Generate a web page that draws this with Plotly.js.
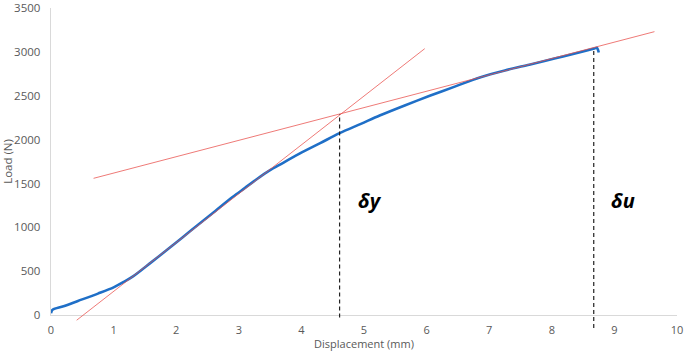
<!DOCTYPE html>
<html>
<head>
<meta charset="utf-8">
<script src="https://cdn.plot.ly/plotly-3.0.1.min.js"></script>
<style>html,body{margin:0;padding:0;background:#fff;}#chart{width:685px;height:351px;}</style>
</head>
<body>
<div id="chart"></div>
<script>
// Load-displacement curve (mm, N)
const curveX = [0, 0.01, 0.03, 0.2, 0.43, 0.75, 1.0, 1.17, 1.31, 1.6, 1.84, 2.1, 2.37, 2.63, 2.9, 3.1, 3.25, 3.45, 3.65, 3.97, 4.3, 4.61, 4.95, 5.25, 5.65, 6.05, 6.45, 6.85, 7.25, 7.64, 7.9, 8.18, 8.45, 8.68, 8.72, 8.74, 8.75];
const curveY = [20, 45, 62, 100, 160, 244, 315, 380, 440, 600, 735, 885, 1040, 1190, 1345, 1450, 1530, 1630, 1712, 1840, 1960, 2075, 2180, 2275, 2390, 2500, 2605, 2710, 2790, 2855, 2900, 2950, 2998, 3040, 3048, 3020, 2995];
// Tangent lines
const steepX = [0.41, 5.97];
const steepY = [-60, 3038];
const shallowX = [0.68, 9.64];
const shallowY = [1559, 3232];
// Yield and ultimate displacement markers
const dyX = [4.61, 4.61];
const dyY = [-30, 2293];
const duX = [8.67, 8.67];
const duY = [-150, 3045];
const labels = ['δy', 'δu'];
const labelX = [5.09, 9.13];
const labelY = [1308, 1308];

const yMin = -160, yMax = 3502;
const mainDomainBottom = (0 - yMin) / (yMax - yMin);

const font = 'Open Sans, Liberation Sans, sans-serif';
const traces = [
  {x: curveX, y: curveY, xaxis: 'x', yaxis: 'y', mode: 'lines', line: {color: '#1f6fc7', width: 2.6, shape: 'spline', smoothing: 0.9}, hoverinfo: 'skip'},
  {x: steepX, y: steepY, xaxis: 'x2', yaxis: 'y2', mode: 'lines', line: {color: 'rgba(232,80,76,0.85)', width: 0.9}},
  {x: shallowX, y: shallowY, xaxis: 'x2', yaxis: 'y2', mode: 'lines', line: {color: 'rgba(232,80,76,0.85)', width: 0.9}},
  {x: dyX, y: dyY, xaxis: 'x2', yaxis: 'y2', mode: 'lines', line: {color: '#222', width: 1.2, dash: '4px,3px'}},
  {x: duX, y: duY, xaxis: 'x2', yaxis: 'y2', mode: 'lines', line: {color: '#222', width: 1.2, dash: '4px,3px'}}
];

const layout = {
  width: 685, height: 351,
  margin: {l: 51, r: 8, t: 8, b: 22},
  showlegend: false,
  paper_bgcolor: '#fff', plot_bgcolor: 'rgba(0,0,0,0)',
  font: {family: font, size: 11, color: '#595959'},
  xaxis: {
    domain: [0, 1], anchor: 'y', range: [0, 10], dtick: 1, tick0: 0,
    showgrid: false, zeroline: false, showline: true, linecolor: '#d9d9d9', linewidth: 1.3,
    ticks: 'outside', ticklen: 5, tickcolor: 'rgba(0,0,0,0)',
    tickfont: {family: font, size: 11, color: '#595959'},
    title: {text: 'Displacement (mm)', font: {family: font, size: 11, color: '#595959'}},
    automargin: false, fixedrange: true
  },
  yaxis: {
    domain: [mainDomainBottom, 1], anchor: 'x', range: [0, yMax], dtick: 500, tick0: 0,
    showgrid: false, zeroline: false, showline: true, linecolor: '#d9d9d9', linewidth: 1.3,
    ticks: 'outside', ticklen: 7, tickcolor: 'rgba(0,0,0,0)',
    tickfont: {family: font, size: 11.5, color: '#595959'},
    title: {text: 'Load (N)', font: {family: font, size: 11.5, color: '#595959'}},
    automargin: false, fixedrange: true
  },
  xaxis2: {domain: [0, 1], anchor: 'y2', range: [0, 10], visible: false, fixedrange: true},
  yaxis2: {domain: [0, 1], anchor: 'x2', range: [yMin, yMax], visible: false, fixedrange: true},
  annotations: labels.map((t, i) => ({
    x: labelX[i], y: labelY[i], xref: 'x', yref: 'y', text: '<b><i>' + t + '</i></b>',
    showarrow: false, font: {family: font, size: 20, color: '#000'}
  }))
};

Plotly.newPlot('chart', traces, layout, {displayModeBar: false, staticPlot: true});
</script>
</body>
</html>
